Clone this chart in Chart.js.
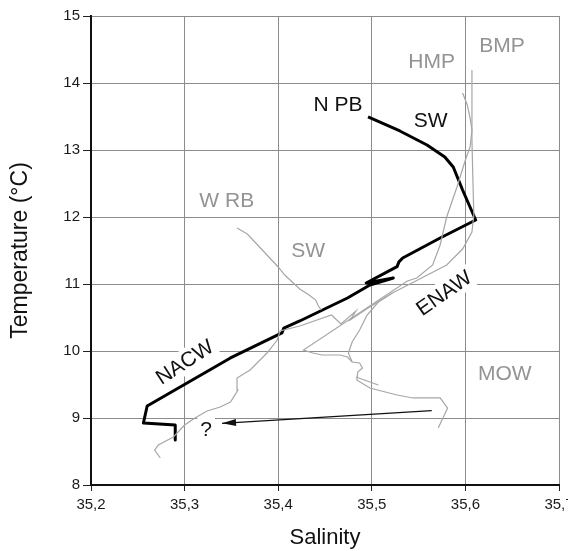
<!DOCTYPE html>
<html><head><meta charset="utf-8">
<script src="https://cdn.jsdelivr.net/npm/chart.js@4/dist/chart.umd.min.js"></script>
<style>html,body{margin:0;padding:0;background:#fff;overflow:hidden}#wrap{width:568px;height:551px;position:relative}</style>
</head><body><div id="wrap"><canvas id="c"></canvas></div>
<script>
// Axis ticks
const xTickValues = [35.2, 35.3, 35.4, 35.5, 35.6, 35.7];
const xTickLabels = ['35,2', '35,3', '35,4', '35,5', '35,6', '35,7'];
const yTickValues = [8, 9, 10, 11, 12, 13, 14, 15];
const yTickLabels = ['8', '9', '10', '11', '12', '13', '14', '15'];

// N PB profile (black)
const npbS = [35.496,35.530,35.559,35.578,35.587,35.597,35.611,35.573,35.533,35.529,35.527,35.494,35.523,35.498,35.474,35.423,35.406,35.404,35.349,35.260,35.256,35.290,35.290];
const npbT = [13.493,13.284,13.075,12.896,12.746,12.403,11.955,11.687,11.388,11.330,11.260,11.015,11.090,10.985,10.791,10.448,10.343,10.270,9.896,9.179,8.925,8.896,8.672];

// W RB profile (grey)
const wrbS = [35.356,35.367,35.378,35.389,35.400,35.407,35.415,35.423,35.433,35.440,35.443,35.446];
const wrbT = [11.836,11.746,11.582,11.418,11.254,11.134,11.030,10.925,10.836,10.761,10.672,10.612];

// BMP profile (grey)
const bmpS = [35.274,35.268,35.272,35.288,35.300,35.311,35.324,35.338,35.349,35.357,35.356,35.370,35.388,35.399,35.402,35.423,35.457,35.467,35.483,35.477,35.496,35.522,35.549,35.580,35.597,35.607,35.609,35.608,35.607,35.607,35.607];
const bmpT = [8.403,8.522,8.597,8.716,8.896,9.000,9.104,9.164,9.239,9.418,9.597,9.716,9.970,10.164,10.299,10.373,10.537,10.403,10.597,10.463,10.642,10.866,11.060,11.284,11.522,11.776,12.030,12.552,13.149,13.746,14.194];

// HMP profile (grey)
const hmpS = [35.597,35.602,35.605,35.607,35.605,35.601,35.591,35.580,35.573,35.565,35.548,35.538,35.427,35.437,35.447,35.466,35.474,35.479,35.487,35.490,35.485,35.484,35.498,35.527,35.544,35.573,35.581,35.576,35.571];
const hmpT = [13.851,13.672,13.478,13.299,13.045,12.896,12.448,12.000,11.582,11.284,11.090,11.045,10.015,9.970,9.940,9.940,9.910,9.836,9.821,9.746,9.687,9.567,9.448,9.343,9.299,9.299,9.149,9.000,8.851];

// Other grey branches
const branchAS = [35.522,35.507,35.495,35.487,35.479,35.475,35.479];
const branchAT = [10.866,10.731,10.537,10.313,10.134,9.970,9.836];
const branchBS = [35.483,35.495,35.507];
const branchBT = [9.612,9.552,9.493];

// Arrow (from MOW to "?")
const arrowS = [35.564, 35.340];
const arrowT = [9.109, 8.921];

// Water-mass labels
const labelText  = ['HMP','BMP','N PB','SW','W RB','SW','NACW','ENAW','MOW','?'];
const labelS     = [35.564,35.639,35.464,35.563,35.345,35.432,35.300,35.577,35.642,35.323];
const labelT     = [14.328,14.567,13.687,13.448,12.254,11.507,9.836,10.866,9.672,8.836];
const labelAngle = [0,0,0,0,0,0,-33,-35,0,0];
const labelDark  = [false,false,true,true,false,false,true,true,false,true];

const pts = (s, t) => s.map((v, i) => ({x: v, y: t[i]}));
const GREY = '#a6a6a6';
const FONT = '"Liberation Sans", Arial, sans-serif';

function greyDs(s, t){ return {data: pts(s,t), showLine:true, borderColor:GREY, borderWidth:1.2, pointRadius:0, tension:0, fill:false}; }

const labelPlugin = {
  id:'wmLabels',
  beforeDatasetsDraw(chart){
    const {ctx, scales:{x, y}} = chart;
    ctx.save();
    ctx.font = '21px ' + FONT;
    labelText.forEach((txt, i) => {
      const px = x.getPixelForValue(labelS[i]);
      const py = y.getPixelForValue(labelT[i]);
      ctx.save();
      ctx.translate(px, py);
      ctx.rotate(labelAngle[i] * Math.PI / 180);
      const w = ctx.measureText(txt).width;
      ctx.fillStyle = '#fff';
      ctx.fillRect(-w/2 - 3, -12, w + 6, 24);
      ctx.fillStyle = labelDark[i] ? '#111' : '#939393';
      ctx.textAlign = 'center';
      ctx.textBaseline = 'middle';
      ctx.fillText(txt, 0, 1);
      ctx.restore();
    });
    ctx.restore();
  },
  afterDatasetsDraw(chart){
    const {ctx, scales:{x, y}} = chart;
    const x0 = x.getPixelForValue(arrowS[0]), y0 = y.getPixelForValue(arrowT[0]);
    const x1 = x.getPixelForValue(arrowS[1]), y1 = y.getPixelForValue(arrowT[1]);
    const a = Math.atan2(y1 - y0, x1 - x0);
    const L = 14, H = 3.5;
    ctx.save();
    ctx.fillStyle = '#111';
    ctx.beginPath();
    ctx.moveTo(x1, y1);
    ctx.lineTo(x1 - L*Math.cos(a) + H*Math.sin(a), y1 - L*Math.sin(a) - H*Math.cos(a));
    ctx.lineTo(x1 - L*Math.cos(a) - H*Math.sin(a), y1 - L*Math.sin(a) + H*Math.cos(a));
    ctx.closePath();
    ctx.fill();
    ctx.restore();
  }
};

new Chart(document.getElementById('c'), {
  type:'scatter',
  data:{datasets:[
    greyDs(bmpS, bmpT),
    greyDs(hmpS, hmpT),
    greyDs(wrbS, wrbT),
    greyDs(branchAS, branchAT),
    greyDs(branchBS, branchBT),
    {data: pts(arrowS, arrowT), showLine:true, borderColor:'#111', borderWidth:1.3, pointRadius:0, tension:0},
    {data: pts(npbS, npbT), showLine:true, borderColor:'#000', borderWidth:3, pointRadius:0, tension:0, borderJoinStyle:'round'}
  ]},
  options:{
    responsive:true, maintainAspectRatio:false, animation:false,
    layout:{padding:{top:16, right:9, left:0, bottom:0}},
    plugins:{legend:{display:false}, tooltip:{enabled:false}},
    scales:{
      x:{
        type:'linear', min:35.2, max:35.7,
        afterBuildTicks: s => { s.ticks = xTickValues.map(v => ({value:v})); },
        afterFit: s => { s.height = 66; s.paddingLeft = 0; s.paddingRight = 0; },
        ticks:{callback:(v,i) => xTickLabels[i], autoSkip:false, maxRotation:0, color:'#1a1a1a', padding:5, font:{family:FONT, size:15}},
        grid:{color:'#8c8c8c', lineWidth:1, tickLength:6, tickColor:'#222'},
        border:{color:'#111', width:2},
        title:{display:true, text:'Salinity', color:'#111', font:{family:FONT, size:22}, padding:{top:0, bottom:0}}
      },
      y:{
        type:'linear', min:8, max:15,
        afterBuildTicks: s => { s.ticks = yTickValues.map(v => ({value:v})); },
        afterFit: s => { s.width = 91; },
        ticks:{callback:(v,i) => yTickLabels[i], autoSkip:false, color:'#1a1a1a', padding:3, font:{family:FONT, size:15}},
        grid:{color:'#8c8c8c', lineWidth:1, tickLength:8, tickColor:'#222'},
        border:{color:'#111', width:2},
        title:{display:true, text:'Temperature (°C)', color:'#111', font:{family:FONT, size:23}, padding:{top:7, bottom:0}}
      }
    }
  },
  plugins:[labelPlugin]
});
</script>
</body></html>
